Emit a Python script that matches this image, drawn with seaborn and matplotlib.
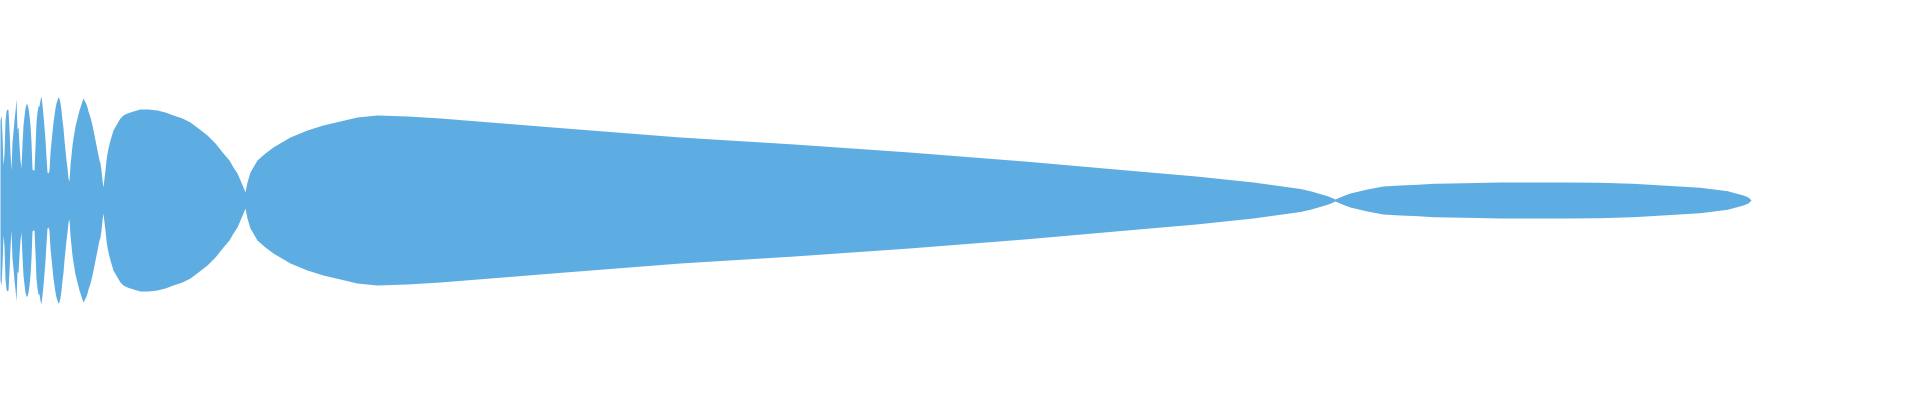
import numpy as np
import pandas as pd
import matplotlib
matplotlib.use("Agg")
import matplotlib.pyplot as plt
import seaborn as sns

# Position along the stream (x) and the stream half-thickness read at that position
positions = [
    0, 1, 2, 3, 4, 5, 6, 7, 8, 9, 10, 11, 12, 13, 14, 15, 16, 17, 18, 19,
    20, 21, 22, 23, 24, 25, 26, 27, 28, 29, 30, 31, 32, 33, 34, 35, 36, 37, 38, 39,
    40, 41, 42, 43, 44, 45, 46, 47, 48, 49, 50, 51, 52, 53, 54, 55, 56, 57, 58, 59,
    60, 61, 62, 63, 64, 65, 66, 67, 68, 69, 70, 71, 72, 73, 74, 75, 76, 77, 78, 79,
    80, 81, 82, 83, 84, 85, 86, 87, 88, 89, 90, 91, 92, 93, 94, 95, 96, 97, 98, 99,
    100, 101, 102, 103, 104, 105, 106, 107, 108, 110, 113, 117, 120, 123, 127, 133,
    140, 148, 157, 165, 173, 182, 190, 198, 207, 215, 223, 229, 233, 237, 240, 243,
    245, 247, 250, 257, 265, 273, 290, 307, 323, 340, 357, 377, 407, 440, 490, 565,
    680, 794, 909, 1024, 1138, 1196, 1253, 1282, 1300, 1311, 1328, 1335, 1342, 1350,
    1367, 1383, 1400, 1417, 1433, 1467, 1500, 1533, 1567, 1600, 1633, 1667, 1700,
    1727, 1743, 1748, 1751,
]
half_widths = [
    80, 85, 65, 35, 46, 79, 89, 91, 90, 71, 47, 30, 58, 68, 80, 89, 101, 71, 73, 55,
    40, 32, 56, 75, 84, 92, 96, 96, 92, 85, 75, 58, 31, 30, 30, 53, 78, 88, 94, 94,
    100, 104, 95, 85, 73, 60, 43, 28, 27, 30, 48, 58, 68, 78, 85, 92, 97, 100, 103, 102,
    97, 90, 80, 72, 60, 50, 40, 32, 22, 19, 35, 45, 55, 62, 68, 74, 78, 82, 86, 90,
    93, 96, 99, 102, 100, 98, 96, 93, 89, 86, 83, 79, 75, 70, 65, 60, 55, 50, 45, 40,
    37, 30, 20, 13, 22, 30, 40, 47, 52, 60, 70, 77, 82, 85, 87, 89,
    91, 91, 90, 88, 85, 82, 78, 72, 65, 57, 47, 40, 33, 27, 20, 13,
    8, 18, 28, 40, 47, 53, 63, 70, 75, 79, 83, 85, 84, 82, 78, 72,
    63, 56, 48, 39, 29, 24, 18, 14, 11.5, 9, 4, 1, 4, 7,
    11, 14, 15, 15.7, 16.7, 17.3, 18, 18, 18, 17.7, 16.7, 14.7, 12.7,
    9.3, 5, 3, 0,
]

df = pd.DataFrame({"x": positions, "value": np.array(half_widths) * 2.0})
# silhouette offset: the single stream is centred around zero
df["y0"] = -df["value"] / 2
df["y1"] = df["value"] / 2

sns.set_theme(style="white")
fig = plt.figure(figsize=(19.2, 4.0), dpi=100)
ax = fig.add_axes([0, 0, 1, 1])
color = "#5dade2"
sns.lineplot(data=df, x="x", y="y1", ax=ax, color=color, linewidth=0)
ax.fill_between(df["x"], df["y0"], df["y1"], color=color, linewidth=0)
ax.set_xlim(0, 1920)
ax.set_ylim(200, -200)
ax.set_axis_off()
fig.savefig("out.png", dpi=100, facecolor="white")
